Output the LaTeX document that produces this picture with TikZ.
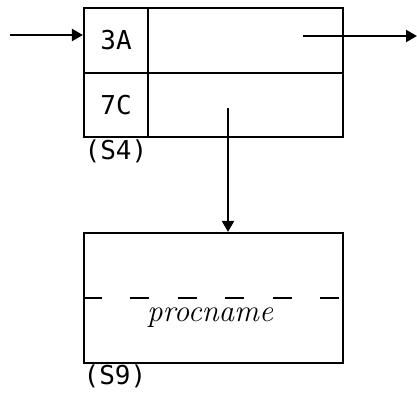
\documentclass[tikz,border=0pt]{standalone}
\usepackage{fontspec}
\newfontfamily\monofam{DejaVu Sans Mono}
\usetikzlibrary{arrows.meta}

\begin{document}
\begin{tikzpicture}[x=1pt, y=-1pt, line width=2.2pt,
    cell/.style={draw, rectangle, inner sep=0pt, font=\monofam\fontsize{26}{26}\selectfont},
    lbl/.style={font=\monofam\fontsize{26}{26}\selectfont, inner sep=0pt},
    arr/.style={-{Triangle[length=11pt,width=12pt]}}]
                \useasboundingbox (0,0) rectangle (417,393);
                \node[cell, minimum width=64pt, minimum height=65pt] (c3A) at (116,40.5) {3A};
                \node[cell, minimum width=64pt, minimum height=64pt] (c7C) at (116,105) {7C};
                \node[cell, minimum width=195pt, minimum height=65pt] (r1) at (245.5,40.5) {};
                \node[cell, minimum width=195pt, minimum height=64pt] (r2) at (245.5,105) {};
                \node[lbl] (s4) at (116,151) {(S4)};
                \node[cell, minimum width=259pt, minimum height=130pt] (s9box) at (213.5,298) {};
                \node[font=\itshape\fontsize{31}{31}\selectfont, inner sep=0pt] (proc) at (210,318) {procname};
                \node[lbl] (s9) at (115,376) {(S9)};
                \coordinate (in) at (10,35);
                \coordinate (outs) at (303,36);
                \coordinate (oute) at (417,36);
                \coordinate (down) at (228,108);
                \draw[arr] (in) -- (in -| c3A.west);
                \draw[arr] (outs) -- (oute);
                \draw[arr] (down) -- (down |- s9box.north);
                \draw[dash pattern=on 19pt off 28.5pt] (s9box.west) -- (s9box.east);
            \end{tikzpicture}
\end{document}
